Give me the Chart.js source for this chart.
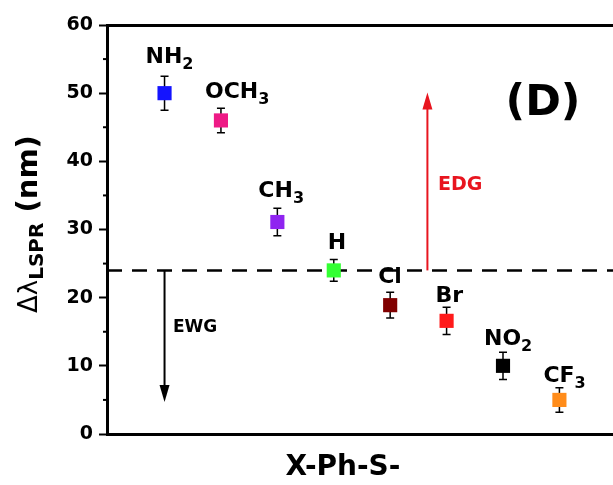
<!DOCTYPE html>
<html>
<head>
<meta charset="utf-8">
<script src="https://cdn.jsdelivr.net/npm/chart.js@4.4.1/dist/chart.umd.min.js"></script>
<style>
  html, body { margin: 0; padding: 0; background: #fff; overflow: hidden; }
  canvas { display: block; }
</style>
</head>
<body>
<canvas id="chart" width="613" height="485"></canvas>
<script>
// substituents X in X-Ph-S-, left to right
const groupMain = ['NH', 'OCH', 'CH', 'H', 'Cl', 'Br', 'NO', 'CF'];
const groupSub = ['2', '3', '3', '', '', '', '2', '3'];
const positions = [1, 2, 3, 4, 5, 6, 7, 8];
const shifts = [50, 46, 31.1, 24, 18.9, 16.6, 10, 5];
const errors = [2.5, 1.8, 2.0, 1.6, 1.9, 2.0, 2.0, 1.8];
const yTicks = [0, 10, 20, 30, 40, 50, 60];
const yMinorTicks = [5, 15, 25, 35, 45, 55];
const refLevel = 24;
const ewgArrow = { x: 1.0, from: 24, to: 4.7 };
const edgArrow = { x: 5.66, from: 24, to: 50.1 };

// styles
const colors = ['#1414ff', '#ee1a86', '#8f24f0', '#33ff33', '#800000', '#ff1a1a', '#000000', '#ff8c1a'];
const labelOffsets = [[-19, -30], [-16, -22], [-19, -25], [-6, -21], [-12, -22], [-11, -19], [-19, -21], [-16, -18]];
const FONT = "'DejaVu Sans', sans-serif";
const RED = '#e8151f';

function drawArrow(ctx, x, y1, y2, color) {
  const dir = y2 > y1 ? 1 : -1;
  ctx.save();
  ctx.strokeStyle = color;
  ctx.fillStyle = color;
  ctx.lineWidth = 2;
  ctx.beginPath();
  ctx.moveTo(x, y1);
  ctx.lineTo(x, y2 - dir * 14);
  ctx.stroke();
  ctx.beginPath();
  ctx.moveTo(x, y2);
  ctx.lineTo(x - 5, y2 - dir * 17);
  ctx.lineTo(x + 5, y2 - dir * 17);
  ctx.closePath();
  ctx.fill();
  ctx.restore();
}

const decor = {
  id: 'decor',
  beforeDatasetsDraw(chart) {
    const { ctx, scales: { x, y } } = chart;
    ctx.save();
    ctx.strokeStyle = '#000';
    ctx.lineWidth = 1.5;
    positions.forEach((p, i) => {
      const px = x.getPixelForValue(p);
      const top = y.getPixelForValue(shifts[i] + errors[i]);
      const bot = y.getPixelForValue(shifts[i] - errors[i]);
      ctx.beginPath();
      ctx.moveTo(px, top); ctx.lineTo(px, bot);
      ctx.moveTo(px - 4, top); ctx.lineTo(px + 4, top);
      ctx.moveTo(px - 4, bot); ctx.lineTo(px + 4, bot);
      ctx.stroke();
    });
    ctx.restore();
  },
  afterDatasetsDraw(chart) {
    const { ctx, chartArea, scales: { x, y } } = chart;
    ctx.save();

    // minor ticks on the y axis
    ctx.strokeStyle = '#000';
    ctx.lineWidth = 2;
    yMinorTicks.forEach(v => {
      const py = y.getPixelForValue(v);
      ctx.beginPath();
      ctx.moveTo(chartArea.left - 4, py);
      ctx.lineTo(chartArea.left, py);
      ctx.stroke();
    });

    // arrows
    drawArrow(ctx, x.getPixelForValue(ewgArrow.x), y.getPixelForValue(ewgArrow.from), y.getPixelForValue(ewgArrow.to), '#000');
    drawArrow(ctx, x.getPixelForValue(edgArrow.x), y.getPixelForValue(edgArrow.from), y.getPixelForValue(edgArrow.to), RED);

    ctx.textBaseline = 'alphabetic';
    ctx.textAlign = 'left';
    ctx.fillStyle = '#000';
    ctx.font = 'bold 17px ' + FONT;
    ctx.fillText('EWG', 173, 332);
    ctx.fillStyle = RED;
    ctx.font = 'bold 19px ' + FONT;
    ctx.fillText('EDG', 438, 190);

    // point labels with subscripts
    ctx.fillStyle = '#000';
    positions.forEach((p, i) => {
      const lx = x.getPixelForValue(p) + labelOffsets[i][0];
      const ly = y.getPixelForValue(shifts[i]) + labelOffsets[i][1];
      ctx.font = 'bold 22px ' + FONT;
      ctx.fillText(groupMain[i], lx, ly);
      const w = ctx.measureText(groupMain[i]).width;
      if (groupSub[i]) {
        ctx.font = 'bold 16px ' + FONT;
        ctx.fillText(groupSub[i], lx + w, ly + 6);
      }
    });

    // panel tag
    ctx.textAlign = 'center';
    ctx.font = 'bold 43px ' + FONT;
    ctx.fillText('(D)', 543, 115);

    // x title
    ctx.font = 'bold 28px ' + FONT;
    ctx.fillText('X-Ph-S-', 343, 475);

    // y title, rotated
    ctx.translate(37, 313);
    ctx.rotate(-Math.PI / 2);
    ctx.textAlign = 'left';
    let cx = 0;
    ctx.font = '26px ' + FONT;
    ctx.fillText('\u0394\u03bb', cx, 0);
    cx += ctx.measureText('\u0394\u03bb').width;
    ctx.font = 'bold 20px ' + FONT;
    ctx.fillText('LSPR', cx, 6);
    cx += ctx.measureText('LSPR').width;
    ctx.font = 'bold 29px ' + FONT;
    ctx.fillText(' (nm)', cx, 0);

    ctx.restore();
  }
};

new Chart(document.getElementById('chart'), {
  type: 'scatter',
  data: {
    datasets: [
      {
        data: positions.map((p, i) => ({ x: p, y: shifts[i] })),
        backgroundColor: colors,
        borderColor: colors,
        borderWidth: 0,
        pointStyle: 'rect',
        pointRadius: 10,
        order: 0,
      },
      {
        type: 'line',
        data: [{ x: -0.02, y: refLevel }, { x: 8.95, y: refLevel }],
        borderColor: '#000',
        borderWidth: 2.5,
        borderDash: [15, 10],
        pointRadius: 0,
        order: 1,
      },
    ],
  },
  options: {
    responsive: false,
    animation: false,
    events: [],
    layout: { autoPadding: false, padding: { top: 25, left: 0, right: 0, bottom: 0 } },
    plugins: { legend: { display: false }, tooltip: { enabled: false } },
    scales: {
      x: {
        type: 'linear',
        position: 'bottom',
        min: -0.02,
        max: 8.95,
        ticks: { display: false },
        grid: { display: false, drawTicks: false },
        border: { display: true, color: '#000', width: 3 },
        afterFit: s => { s.height = 51; },
      },
      x2: {
        type: 'linear',
        position: 'top',
        min: -0.02,
        max: 8.95,
        ticks: { display: false },
        grid: { display: false, drawTicks: false },
        border: { display: true, color: '#000', width: 3 },
        afterFit: s => { s.height = 0; },
      },
      y: {
        min: 0,
        max: 60,
        afterBuildTicks: s => { s.ticks = yTicks.map(v => ({ value: v })); },
        ticks: {
          color: '#000',
          padding: 6,
          font: { family: FONT, size: 19, weight: 'bold' },
        },
        grid: {
          drawOnChartArea: false,
          drawTicks: true,
          tickLength: 8,
          tickWidth: 2,
          tickColor: '#000',
        },
        border: { display: true, color: '#000', width: 3 },
        afterFit: s => { s.width = 107; },
      },
    },
  },
  plugins: [decor],
});
</script>
</body>
</html>
